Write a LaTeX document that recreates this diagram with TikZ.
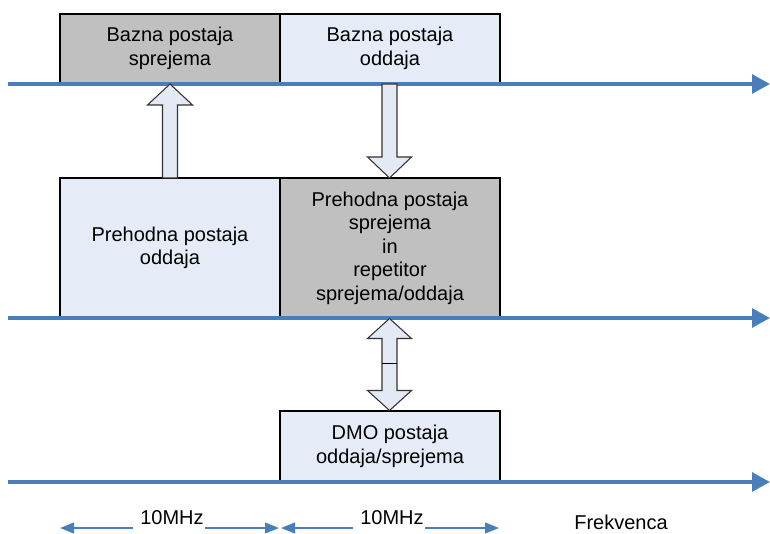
\documentclass[tikz,border=0pt]{standalone}
\usepackage{fontspec}
\setmainfont{Liberation Sans}
\usetikzlibrary{arrows.meta}
\definecolor{axisblue}{HTML}{4A7EBB}
\definecolor{boxgray}{HTML}{C0C0C0}
\definecolor{boxblue}{HTML}{E6ECF7}
\definecolor{arrfill}{HTML}{E3E9F5}
\begin{document}
\begin{tikzpicture}[x=0.75pt,y=-0.75pt,
  every node/.style={font=\fontsize{15pt}{17.6pt}\selectfont},
  box/.style={draw=black, line width=1.1pt, rectangle, inner sep=0pt, outer sep=0pt,
    minimum width=165pt, anchor=north west, align=center},
  graybox/.style={box, fill=boxgray},
  bluebox/.style={box, fill=boxblue},
  axis/.style={draw=axisblue, line width=3pt, -{Triangle[length=13.5pt,width=14pt]}},
  span/.style={draw=axisblue, line width=1.5pt, -{Triangle[length=10.5pt,width=8pt]}},
  blockarrow/.style={draw=black!80, line width=0.8pt, fill=arrfill, line join=miter},
  lbl/.style={inner sep=0pt}
]
\useasboundingbox (0,0) rectangle (770,534);

% boxes
\node[graybox, minimum height=51.75pt] (bs) at (60,14) {Bazna postaja\\sprejema};
\node[bluebox, minimum height=51.75pt] (bo) at (280,14) {Bazna postaja\\oddaja};
\node[bluebox, minimum height=105pt] (po) at (60,178) {Prehodna postaja\\oddaja};
\node[graybox, minimum height=105pt] (ps) at (280,178) {Prehodna postaja\\sprejema\\in\\repetitor\\sprejema/oddaja};
\node[bluebox, minimum height=53.25pt] (dmo) at (280,411) {DMO postaja\\oddaja/sprejema};

% axes
\coordinate (a1s) at (8,84);  \coordinate (a1e) at (770,84);
\coordinate (a2s) at (8,318); \coordinate (a2e) at (770,318);
\coordinate (a3s) at (8,482); \coordinate (a3e) at (770,482);
\draw[axis] (a1s) -- (a1e);
\draw[axis] (a2s) -- (a2e);
\draw[axis] (a3s) -- (a3e);

% block arrows
\draw[blockarrow] (162.5,178) -- (162.5,105) -- (147.5,105) -- (170,84) -- (192.5,105) -- (177.5,105) -- (177.5,178) -- cycle;
\draw[blockarrow] (382,84) -- (382,157) -- (367.5,157) -- (389.5,178) -- (411.5,157) -- (397,157) -- (397,84) -- cycle;
\draw[blockarrow] (389.5,318.5) -- (411.5,338.5) -- (397,338.5) -- (397,390.5) -- (411.5,390.5) -- (389.5,410.5)
  -- (367.5,390.5) -- (382,390.5) -- (382,338.5) -- (367.5,338.5) -- cycle;
\draw[black, line width=0.8pt] (382,363.5) -- (397,363.5);

% frequency spans
\node[lbl] (f1) at (172,518) {10MHz};
\node[lbl] (f2) at (392,518) {10MHz};
\node[lbl] (fr) at (621,522) {Frekvenca};
\coordinate (s1a) at (133,528); \coordinate (s1b) at (60,528);
\coordinate (s1c) at (205,528); \coordinate (s1d) at (279,528);
\coordinate (s2a) at (353,528); \coordinate (s2b) at (281,528);
\coordinate (s2c) at (425,528); \coordinate (s2d) at (499,528);
\draw[span] (s1a) -- (s1b);
\draw[span] (s1c) -- (s1d);
\draw[span] (s2a) -- (s2b);
\draw[span] (s2c) -- (s2d);
\end{tikzpicture}
\end{document}
